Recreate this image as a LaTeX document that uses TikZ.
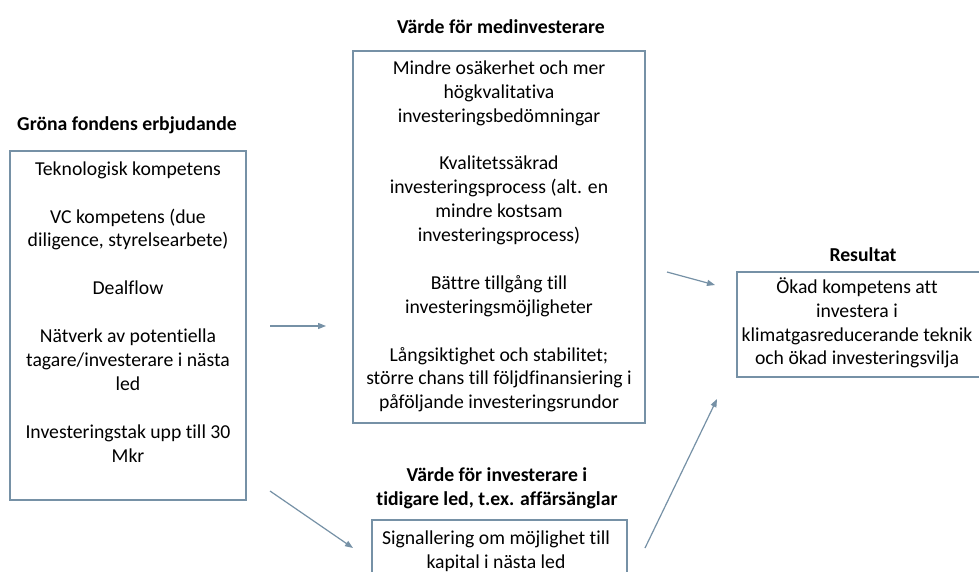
\documentclass[tikz,border=0pt]{standalone}
\usepackage{fontspec}
\setmainfont{Carlito}[Ligatures={NoCommon}]
\usetikzlibrary{arrows.meta}
\definecolor{frame}{RGB}{118,145,166}
\tikzset{
  txt/.style={font=\fontsize{19.7}{23.9}\selectfont, align=center, inner sep=0pt, text=black},
  heading/.style={font=\fontsize{19.7}{23.9}\selectfont\bfseries, align=center, inner sep=0pt, text=black},
  panel/.style={draw=frame, line width=2pt, fill=white, inner sep=0pt},
  link/.style={draw=frame, line width=1.2pt, -{Triangle[length=8pt,width=6pt]}}
}
\begin{document}
\begin{tikzpicture}[x=1pt, y=-1pt]
\clip (0,0) rectangle (979,572);
\fill[white] (0,0) rectangle (979,572);

% boxes
\node[panel, minimum width=236pt, minimum height=349pt] (offer) at (128,325.5) {};
\node[panel, minimum width=292pt, minimum height=372pt] (coinv) at (499,237) {};
\node[panel, minimum width=255pt, minimum height=90pt] (early) at (499.5,565) {};
\node[panel, minimum width=253pt, minimum height=105pt] (result) at (863.5,324.5) {};

% headings
\node[heading, anchor=base] (offerT) at (127,131) {Gröna fondens erbjudande};
\node[heading, anchor=base] (coinvT) at (501,34) {Värde för medinvesterare};
\node[heading, anchor=north] (earlyT) at (497,464.3) {\strut Värde för investerare i\\tidigare led, t.ex. affärsänglar};
\node[heading, anchor=base] (resultT) at (863,261) {Resultat};

% box contents
\node[txt, anchor=north] (offerX) at (128,158.3) {\strut Teknologisk kompetens\\[23.9pt]
VC kompetens (due\\diligence, styrelsearbete)\\[23.9pt]
Dealflow\\[23.9pt]
Nätverk av potentiella\\tagare/investerare i nästa\\led\\[23.9pt]
Investeringstak upp till 30\\Mkr};

\node[txt, anchor=north] (coinvX) at (499,57.3) {\strut Mindre osäkerhet och mer\\högkvalitativa\\investeringsbedömningar\\[23.9pt]
Kvalitetssäkrad\\investeringsprocess (alt. en\\mindre kostsam\\investeringsprocess)\\[23.9pt]
Bättre tillgång till\\investeringsmöjligheter\\[23.9pt]
Långsiktighet och stabilitet;\\större chans till följdfinansiering i\\påföljande investeringsrundor};

\node[txt, anchor=north] (earlyX) at (496,527.3) {\strut Signallering om möjlighet till\\kapital i nästa led};

\node[txt, anchor=north] (resultX) at (857,276.3) {\strut Ökad kompetens att\\investera i\\klimatgasreducerande teknik\\och ökad investeringsvilja};

% arrow end points
\coordinate (a1s) at (270,326);
\coordinate (a1e) at (326,326);
\coordinate (a2s) at (270,491);
\coordinate (a2e) at (353,548);
\coordinate (a3s) at (667,272);
\coordinate (a3e) at (715,285);
\coordinate (a4s) at (645,548);
\coordinate (a4e) at (717,399);

\draw[link] (a1s) -- (a1e);
\draw[link] (a2s) -- (a2e);
\draw[link] (a3s) -- (a3e);
\draw[link] (a4s) -- (a4e);
\end{tikzpicture}
\end{document}
